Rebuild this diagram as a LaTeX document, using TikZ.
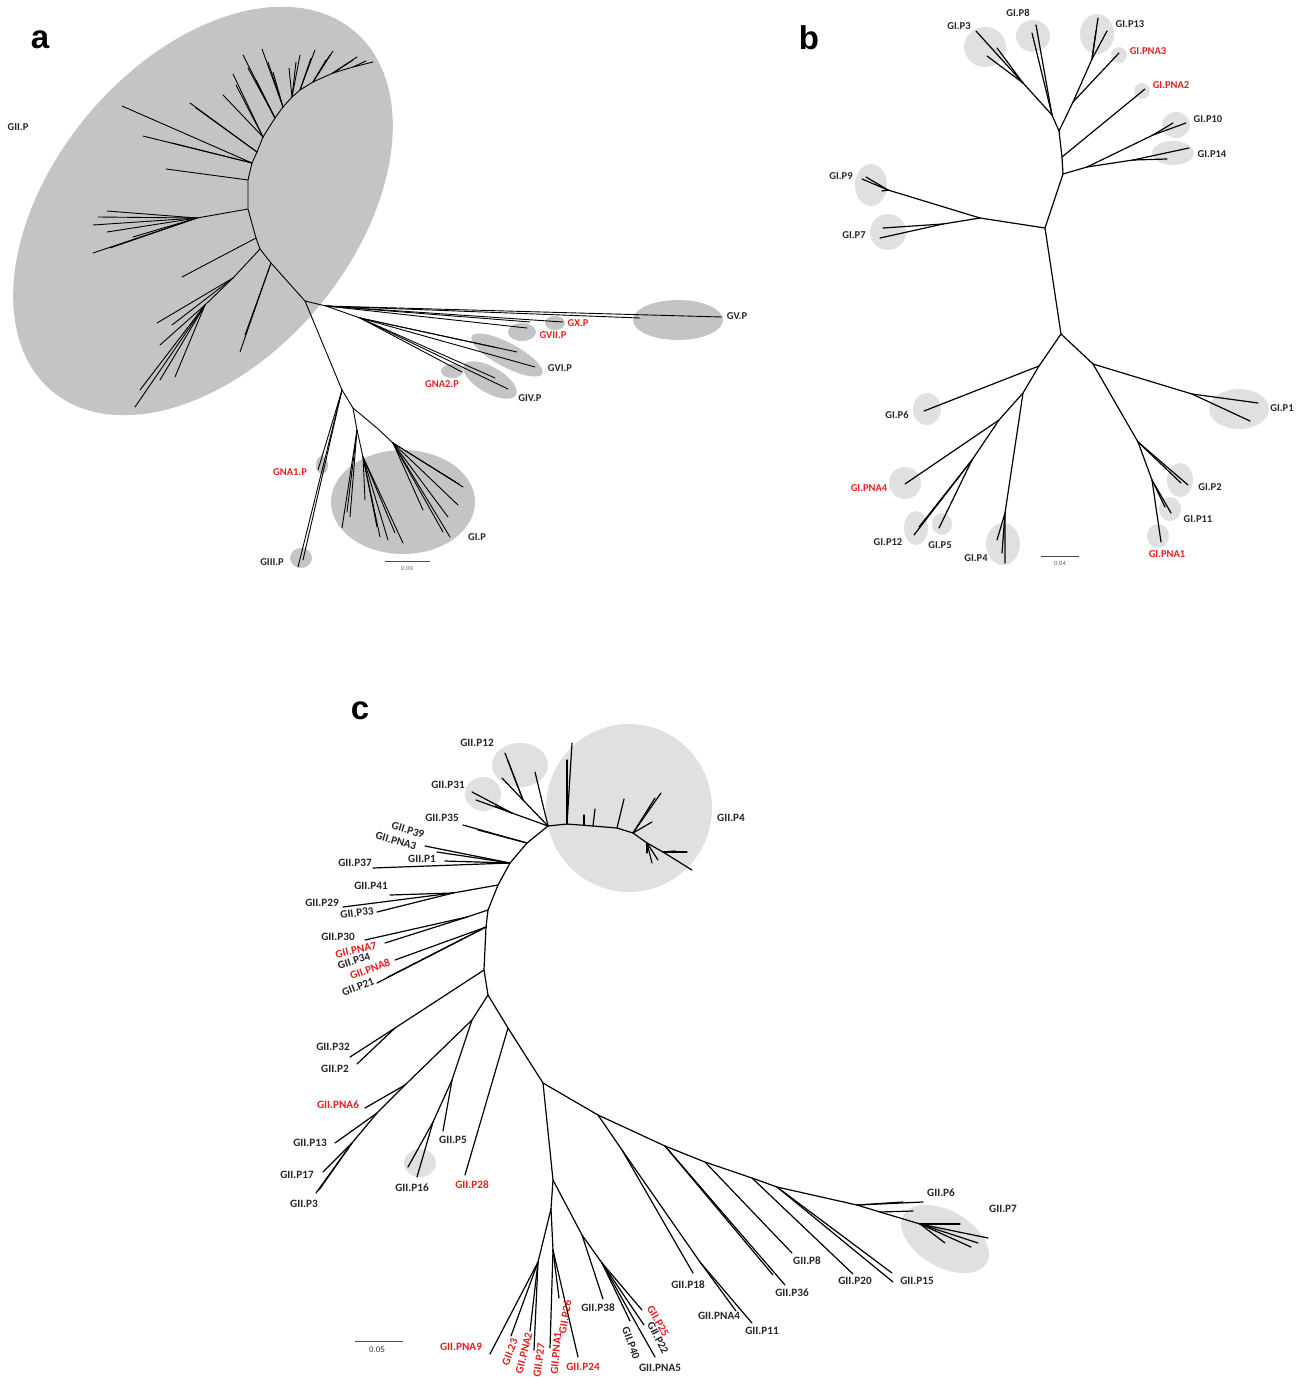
\documentclass[tikz,border=0pt]{standalone}
\usepackage{fontspec}
\newfontfamily\labfam{Carlito}
\newfontfamily\panelfam{Liberation Sans}
\definecolor{tipred}{RGB}{232,30,30}
\definecolor{shadea}{RGB}{196,196,196}
\definecolor{shadeb}{RGB}{224,224,224}
\tikzset{
  br/.style={line width=1.2pt, line cap=round, line join=round},
  thinbr/.style={line width=0.9pt, line cap=round, line join=round},
  blob/.style={fill=shadea},
  cloud/.style={fill=shadeb},
  lab/.style={font=\labfam\bfseries\fontsize{10.5}{12}\selectfont, inner sep=0pt, text=black!85},
  redlab/.style={lab, text=tipred},
  labc/.style={font=\labfam\bfseries\fontsize{11.2}{13}\selectfont, inner sep=0pt, text=black!85},
  redlabc/.style={labc, text=tipred},
  panel/.style={font=\panelfam\bfseries\fontsize{33}{36}\selectfont, inner sep=0pt},
  bar/.style={line width=0.9pt, black!70},
  barlab/.style={font=\panelfam\fontsize{6}{7}\selectfont, text=black!60, inner sep=0pt},
}
\begin{document}
\begin{tikzpicture}[x=1pt,y=-1pt]
\useasboundingbox (0,0) rectangle (1304,1377);

%%%%%%%%%%%%%%%% panel a %%%%%%%%%%%%%%%%
\node[panel] (pa) at (40,40) {a};

% clade shading
\fill[blob, rotate around={50:(203,211)}] (203,211) ellipse [x radius=235, y radius=150];
\fill[blob] (678,320) ellipse [x radius=45, y radius=20];
\fill[blob] (555,323) ellipse [x radius=10, y radius=7];
\fill[blob] (522,332) ellipse [x radius=14, y radius=9];
\fill[blob, rotate around={-28:(507,355)}] (507,355) ellipse [x radius=40, y radius=12];
\fill[blob, rotate around={-30:(490,380)}] (490,380) ellipse [x radius=30, y radius=13];
\fill[blob] (452,371) ellipse [x radius=11, y radius=7];
\fill[blob] (322,465) ellipse [x radius=6, y radius=9];
\fill[blob] (301,558) ellipse [x radius=11, y radius=10];
\fill[blob] (403,502) ellipse [x radius=72, y radius=52];

% backbone of GII
\coordinate (a0) at (342,390);
\coordinate (a1) at (305,301);
\coordinate (a2) at (271,263);
\coordinate (a3) at (260,249);
\coordinate (a4) at (256,238);
\coordinate (a5) at (248,209);
\coordinate (a6) at (248,180);
\coordinate (a7) at (252,163);
\coordinate (a8) at (257,152);
\coordinate (a9) at (263,137);
\coordinate (a10) at (275,118);
\coordinate (a11) at (283,107);
\coordinate (a12) at (292,97);
\coordinate (a13) at (300,90);
\coordinate (a14) at (313,82);
\coordinate (a15) at (333,73);
\coordinate (a16) at (353,67);
\coordinate (a17) at (373,62);
\draw[thinbr] (a0) -- (a1) -- (a2) -- (a3) -- (a4) -- (a5) -- (a6) -- (a7) -- (a8)
  -- (a9) -- (a10) -- (a11) -- (a12) -- (a13) -- (a14) -- (a15) -- (a16) -- (a17);

% GII fans
\foreach \x/\y in {240/352,245/335} \draw[thinbr] (a2) -- (\x,\y);
\coordinate (a3s) at (233,278);
\coordinate (a3t) at (205,305);
\draw[thinbr] (a3) -- (a3s) -- (a3t);
\foreach \x/\y in {157/323,172/325} \draw[thinbr] (a3s) -- (\x,\y);
\foreach \x/\y in {135/407,160/345,175/377,160/380,140/390} \draw[thinbr] (a3t) -- (\x,\y);
\draw[thinbr] (a4) -- (182,277);
\coordinate (a5s) at (197,218);
\draw[thinbr] (a5) -- (a5s);
\foreach \x/\y in {93/253,110/248,107/232,93/225,98/217,107/211,133/237} \draw[thinbr] (a5s) -- (\x,\y);
\draw[thinbr] (a6) -- (166,169);
\foreach \x/\y in {122/106,143/136,172/143} \draw[thinbr] (a7) -- (\x,\y);
\foreach \x/\y in {190/103,196/108} \draw[thinbr] (a8) -- (\x,\y);
\foreach \x/\y in {223/95,233/74,236/85} \draw[thinbr] (a9) -- (\x,\y);
\foreach \x/\y in {243/55,248/68,256/80} \draw[thinbr] (a10) -- (\x,\y);
\foreach \x/\y in {262/49,273/72,268/62} \draw[thinbr] (a11) -- (\x,\y);
\foreach \x/\y in {289/68,300/55,296/62} \draw[thinbr] (a12) -- (\x,\y);
\foreach \x/\y in {315/50,311/58} \draw[thinbr] (a13) -- (\x,\y);
\foreach \x/\y in {333/51,326/60,330/55} \draw[thinbr] (a14) -- (\x,\y);
\foreach \x/\y in {357/57,348/63,353/60} \draw[thinbr] (a15) -- (\x,\y);
\draw[thinbr] (a16) -- (366,61);

% GV, GX, GVII, GVI, GIV, GNA2
\coordinate (ar1) at (326,306);
\coordinate (ar2) at (360,318);
\coordinate (tGV) at (722,317);
\draw[thinbr] (a1) -- (ar1) -- (ar2);
\draw[thinbr] (ar1) -- (tGV);
\draw[thinbr] (ar1) -- (640,318);
\foreach \x/\y in {563/322,530/322,527/328} \draw[thinbr] (ar1) -- (\x,\y);
\foreach \x/\y in {517/352,535/367,498/348,495/378,508/389,462/372} \draw[thinbr] (ar2) -- (\x,\y);

% GNA1, GIII, GI
\coordinate (ab1) at (353,408);
\coordinate (ag1) at (357,430);
\coordinate (ag2) at (363,457);
\coordinate (ag3) at (377,428);
\coordinate (ag4) at (393,443);
\foreach \x/\y in {318/470,298/567,303/560} \draw[thinbr] (a0) -- (\x,\y);
\draw[thinbr] (a0) -- (ab1) -- (ag1) -- (ag2);
\draw[thinbr] (ab1) -- (ag3) -- (ag4);
\foreach \x/\y in {350/517,347/512,342/528} \draw[thinbr] (ag1) -- (\x,\y);
\foreach \x/\y in {365/500,380/537,388/540,403/543,395/533,377/527} \draw[thinbr] (ag2) -- (\x,\y);
\foreach \x/\y in {463/487,459/484,458/505,448/517,423/510,450/537,443/532} \draw[thinbr] (ag4) -- (\x,\y);

% labels a
\node[lab] (lGII) at (18,127) {GII.P};
\node[lab] (lGV) at (737,316) {GV.P};
\node[redlab] (lGX) at (578,323) {GX.P};
\node[redlab] (lGVII) at (553,335) {GVII.P};
\node[lab] (lGVI) at (560,368) {GVI.P};
\node[lab] (lGIV) at (530,398) {GIV.P};
\node[redlab] (lGNA2) at (442,384) {GNA2.P};
\node[redlab] (lGNA1) at (290,472) {GNA1.P};
\node[lab] (lGIII) at (272,562) {GIII.P};
\node[lab] (lGI) at (477,537) {GI.P};

% scale a
\coordinate (sa1) at (385,561);
\coordinate (sa2) at (430,561);
\draw[bar] (sa1) -- (sa2);
\node[barlab] (sal) at (407,568) {0.09};

%%%%%%%%%%%%%%%% panel b %%%%%%%%%%%%%%%%
\node[panel] (pb) at (809,38) {b};

\fill[cloud] (985,47) ellipse [x radius=21, y radius=20];
\fill[cloud] (1033,36) ellipse [x radius=17, y radius=16];
\fill[cloud] (1097,34) ellipse [x radius=17, y radius=20];
\fill[cloud] (1119,55) ellipse [x radius=8, y radius=8];
\fill[cloud] (1142,91) ellipse [x radius=8, y radius=8];
\fill[cloud] (1176,125) ellipse [x radius=14, y radius=13];
\fill[cloud] (1173,153) ellipse [x radius=21, y radius=12];
\fill[cloud] (871,185) ellipse [x radius=16, y radius=21];
\fill[cloud] (888,232) ellipse [x radius=18, y radius=18];
\fill[cloud] (927,409) ellipse [x radius=14, y radius=16];
\fill[cloud] (905,483) ellipse [x radius=16, y radius=16];
\fill[cloud] (916,528) ellipse [x radius=12, y radius=17];
\fill[cloud] (942,524) ellipse [x radius=10, y radius=11];
\fill[cloud] (1003,544) ellipse [x radius=17, y radius=21];
\fill[cloud] (1239,409) ellipse [x radius=30, y radius=20];
\fill[cloud] (1180,480) ellipse [x radius=13, y radius=17];
\fill[cloud] (1170,509) ellipse [x radius=11, y radius=12];
\fill[cloud] (1158,536) ellipse [x radius=11, y radius=12];

\coordinate (b0) at (1061,334);
\coordinate (b1) at (1045,228);
\coordinate (b2) at (1063,174);
\coordinate (b3) at (1062,157);
\coordinate (b4) at (1059,131);
\coordinate (b5) at (1052,115);
\coordinate (b6) at (1023,83);
\coordinate (b7) at (1073,102);
\coordinate (b8) at (1092,59);
\coordinate (b9) at (1087,167);
\coordinate (b10) at (1153,135);
\coordinate (b11) at (1133,160);
\coordinate (b12) at (980,218);
\coordinate (b13) at (943,224);
\coordinate (b14) at (888,190);
\draw[br] (b0) -- (b1) -- (b2) -- (b3) -- (b4) -- (b5) -- (b6);
\foreach \x/\y in {1036/25,1032/33} \draw[br] (b5) -- (\x,\y);
\foreach \x/\y in {976/31,987/56,997/48} \draw[br] (b6) -- (\x,\y);
\draw[br] (b4) -- (b7) -- (b8);
\foreach \x/\y in {1098/18,1096/31,1107/31} \draw[br] (b8) -- (\x,\y);
\draw[br] (b7) -- (1119,53);
\draw[br] (b3) -- (1145,89);
\draw[br] (b2) -- (b9) -- (b10);
\foreach \x/\y in {1186/123,1173/123} \draw[br] (b10) -- (\x,\y);
\draw[br] (b9) -- (b11);
\foreach \x/\y in {1189/148,1167/159} \draw[br] (b11) -- (\x,\y);
\draw[br] (b1) -- (b12) -- (b14);
\foreach \x/\y in {862/179,866/177,882/191} \draw[br] (b14) -- (\x,\y);
\draw[br] (b12) -- (b13);
\foreach \x/\y in {883/228,880/238} \draw[br] (b13) -- (\x,\y);

\coordinate (b20) at (1039,366);
\coordinate (b21) at (1023,393);
\coordinate (b22) at (999,420);
\coordinate (b23) at (972,460);
\coordinate (b24) at (1005,513);
\coordinate (b30) at (1093,364);
\coordinate (b31) at (1192,394);
\coordinate (b32) at (1138,442);
\coordinate (b33) at (1152,480);
\draw[br] (b0) -- (b20) -- (b21) -- (b22) -- (b23);
\draw[br] (b20) -- (924,411);
\draw[br] (b22) -- (905,484);
\foreach \x/\y in {914/535,919/527,939/528} \draw[br] (b23) -- (\x,\y);
\draw[br] (b21) -- (b24) -- (1005,563);
\foreach \x/\y in {997/540,1002/553} \draw[br] (b24) -- (\x,\y);
\draw[br] (b0) -- (b30) -- (b31) -- (1258,403);
\draw[br] (b31) -- (1250,421);
\draw[br] (b30) -- (b32);
\foreach \x/\y in {1188/485,1181/483} \draw[br] (b32) -- (\x,\y);
\draw[br] (b32) -- (b33);
\foreach \x/\y in {1171/513,1165/507,1161/542} \draw[br] (b33) -- (\x,\y);

% labels b
\node[lab] (lP3) at (959,26) {GI.P3};
\node[lab] (lP8) at (1018,13) {GI.P8};
\node[lab] (lP13) at (1130,24) {GI.P13};
\node[redlab] (lPNA3) at (1148,51) {GI.PNA3};
\node[redlab] (lPNA2) at (1171,85) {GI.PNA2};
\node[lab] (lP10) at (1208,119) {GI.P10};
\node[lab] (lP14) at (1212,154) {GI.P14};
\node[lab] (lP9) at (841,176) {GI.P9};
\node[lab] (lP7) at (854,235) {GI.P7};
\node[lab] (lP6) at (897,415) {GI.P6};
\node[redlab] (lPNA4) at (869,488) {GI.PNA4};
\node[lab] (lP12) at (888,542) {GI.P12};
\node[lab] (lP5) at (940,545) {GI.P5};
\node[lab] (lP4) at (976,558) {GI.P4};
\node[lab] (lP1) at (1282,408) {GI.P1};
\node[lab] (lP2) at (1210,487) {GI.P2};
\node[lab] (lP11) at (1198,519) {GI.P11};
\node[redlab] (lPNA1) at (1167,554) {GI.PNA1};

% scale b
\coordinate (sb1) at (1041,556);
\coordinate (sb2) at (1079,556);
\draw[bar] (sb1) -- (sb2);
\node[barlab] (sbl) at (1060,563) {0.04};

%%%%%%%%%%%%%%%% panel c %%%%%%%%%%%%%%%%
\node[panel] (pc) at (360,711) {c};

\fill[cloud] (629,808) ellipse [x radius=83, y radius=84];
\fill[cloud] (520,765) ellipse [x radius=28, y radius=22];
\fill[cloud] (483,794) ellipse [x radius=18, y radius=17];
\fill[cloud] (420,1163) ellipse [x radius=16, y radius=14];
\fill[cloud, rotate around={-30:(945,1239)}] (945,1239) ellipse [x radius=48, y radius=28];

% backbone
\coordinate (cA) at (548,826);
\coordinate (cB) at (527,843);
\coordinate (cC) at (510,863);
\coordinate (cD) at (498,885);
\coordinate (cE) at (488,910);
\coordinate (cF) at (486,927);
\coordinate (cG) at (484,970);
\coordinate (cH) at (488,995);
\draw[br] (cA) -- (cB) -- (cC) -- (cD) -- (cE) -- (cF) -- (cG) -- (cH);

% GII.P12, GII.P31, GII.P35
\coordinate (c12) at (523,800);
\coordinate (c31) at (512,813);
\draw[br] (cA) -- (c12);
\foreach \x/\y in {505/753,508/761,502/778} \draw[br] (c12) -- (\x,\y);
\draw[br] (cA) -- (535,772);
\draw[br] (cA) -- (c31);
\foreach \x/\y in {472/792,476/800,495/806} \draw[br] (c31) -- (\x,\y);
\foreach \x/\y in {463/825,478/830} \draw[br] (cB) -- (\x,\y);

% GII.P4
\coordinate (c4a) at (567,824);
\coordinate (c4b) at (593,826);
\coordinate (c4c) at (617,828);
\coordinate (c4d) at (633,833);
\coordinate (c4e) at (647,843);
\coordinate (c4f) at (663,852);
\draw[br] (cA) -- (c4a) -- (c4b) -- (c4c) -- (c4d) -- (c4e) -- (c4f) -- (692,870);
\foreach \x/\y in {572/743,567/760} \draw[br] (c4a) -- (\x,\y);
\draw[br] (584,825) -- (584,815);
\draw[br] (c4b) -- (595,809);
\draw[br] (c4c) -- (624,799);
\foreach \x/\y in {661/793,655/798,652/822} \draw[br] (c4d) -- (\x,\y);
\foreach \x/\y in {652/863,658/860,647/853} \draw[br] (c4e) -- (\x,\y);
\foreach \x/\y in {687/852,675/851} \draw[br] (c4f) -- (\x,\y);

% left side
\foreach \x/\y in {425/846,437/852,445/861,373/868} \draw[br] (cC) -- (\x,\y);
\coordinate (c41) at (453,893);
\draw[br] (cD) -- (c41);
\foreach \x/\y in {390/895,343/907,377/912} \draw[br] (c41) -- (\x,\y);
\coordinate (c30) at (467,917);
\draw[br] (cE) -- (c30);
\foreach \x/\y in {365/940,385/943} \draw[br] (c30) -- (\x,\y);
\foreach \x/\y in {395/960,377/983,388/977} \draw[br] (cF) -- (\x,\y);
\coordinate (c32) at (395,1028);
\draw[br] (cG) -- (c32);
\foreach \x/\y in {350/1057,357/1064} \draw[br] (c32) -- (\x,\y);

% lower left
\coordinate (c6) at (472,1020);
\coordinate (cN6) at (405,1085);
\coordinate (c13) at (377,1113);
\coordinate (c17) at (352,1143);
\coordinate (c5) at (452,1080);
\coordinate (c16) at (433,1122);
\draw[br] (cH) -- (c6) -- (cN6) -- (c13) -- (c17);
\draw[br] (cN6) -- (365,1108);
\draw[br] (c13) -- (335,1143);
\foreach \x/\y in {323/1172,316/1193,319/1190} \draw[br] (c17) -- (\x,\y);
\draw[br] (c6) -- (c5) -- (443,1131);
\draw[br] (c5) -- (c16);
\foreach \x/\y in {408/1167,417/1177} \draw[br] (c16) -- (\x,\y);

% right and bottom
\coordinate (c28) at (508,1028);
\coordinate (cD0) at (543,1083);
\coordinate (cD1) at (598,1115);
\coordinate (cD2) at (665,1146);
\coordinate (cD3) at (705,1162);
\coordinate (cD4) at (752,1178);
\coordinate (cD5) at (777,1187);
\coordinate (cD6) at (857,1205);
\coordinate (cD7) at (880,1212);
\coordinate (cD8) at (920,1224);
\draw[br] (cH) -- (c28) -- (cD0) -- (cD1) -- (cD2) -- (cD3) -- (cD4) -- (cD5) -- (cD6) -- (cD7) -- (cD8);
\draw[br] (c28) -- (465,1175);
\coordinate (c18) at (622,1150);
\coordinate (cN4) at (700,1262);
\draw[br] (cD1) -- (c18) -- (693,1273);
\draw[br] (c18) -- (cN4);
\foreach \x/\y in {736/1311,752/1323} \draw[br] (cN4) -- (\x,\y);
\foreach \x/\y in {785/1285,773/1275} \draw[br] (cD2) -- (\x,\y);
\draw[br] (cD3) -- (792,1253);
\draw[br] (cD4) -- (853,1274);
\foreach \x/\y in {893/1282,892/1273} \draw[br] (cD5) -- (\x,\y);
\foreach \x/\y in {923/1202,903/1202} \draw[br] (cD6) -- (\x,\y);
\draw[br] (cD7) -- (913,1211);
\foreach \x/\y in {960/1224,988/1238,978/1243,971/1247,945/1243} \draw[br] (cD8) -- (\x,\y);

\coordinate (cE0) at (553,1180);
\coordinate (cE1) at (551,1209);
\coordinate (cE1a) at (538,1262);
\coordinate (cE1b) at (553,1250);
\coordinate (cE2) at (582,1235);
\coordinate (cE3) at (602,1263);
\draw[br] (cD0) -- (cE0) -- (cE1);
\draw[br] (cE1) -- (cE1a);
\draw[br] (cE1) -- (cE1b);
\foreach \x/\y in {490/1354,511/1336,530/1331,534/1350} \draw[br] (cE1a) -- (\x,\y);
\foreach \x/\y in {550/1348,559/1298,578/1357} \draw[br] (cE1b) -- (\x,\y);
\draw[br] (cE0) -- (cE2) -- (603,1299);
\draw[br] (cE2) -- (cE3);
\foreach \x/\y in {642/1310,644/1325,655/1357,630/1321} \draw[br] (cE3) -- (\x,\y);

% labels c
\node[labc] (cl12) at (477,743) {GII.P12};
\node[labc] (cl31) at (448,785) {GII.P31};
\node[labc] (cl4) at (731,818) {GII.P4};
\node[labc] (cl35) at (442,818) {GII.P35};
\node[labc, rotate=-17] (cl39) at (408,830) {GII.P39};
\node[labc, rotate=-16] (clN3) at (396,841) {GII.PNA3};
\node[labc] (cl1) at (422,859) {GII.P1};
\node[labc] (cl37) at (355,863) {GII.P37};
\node[labc] (cl41) at (371,886) {GII.P41};
\node[labc] (cl29) at (322,903) {GII.P29};
\node[labc, rotate=8] (cl33) at (357,913) {GII.P33};
\node[labc] (cl30) at (338,937) {GII.P30};
\node[redlabc, rotate=13] (clN7) at (356,950) {GII.PNA7};
\node[labc, rotate=18] (cl34) at (354,961) {GII.P34};
\node[redlabc, rotate=20] (clN8) at (370,969) {GII.PNA8};
\node[labc, rotate=22] (cl21) at (358,987) {GII.P21};
\node[labc] (cl32) at (333,1047) {GII.P32};
\node[labc] (cl2) at (335,1069) {GII.P2};
\node[redlabc] (clN6) at (338,1105) {GII.PNA6};
\node[labc] (cl13) at (310,1143) {GII.P13};
\node[labc] (cl17) at (297,1175) {GII.P17};
\node[labc] (cl3) at (304,1204) {GII.P3};
\node[labc] (cl16) at (412,1188) {GII.P16};
\node[labc] (cl5) at (453,1140) {GII.P5};
\node[redlabc] (cl28) at (472,1185) {GII.P28};
\node[labc] (cl6) at (941,1193) {GII.P6};
\node[labc] (cl7) at (1003,1209) {GII.P7};
\node[labc] (cl8) at (807,1261) {GII.P8};
\node[labc] (cl20) at (855,1281) {GII.P20};
\node[labc] (cl15) at (917,1281) {GII.P15};
\node[labc] (cl36) at (792,1293) {GII.P36};
\node[labc] (cl18) at (688,1285) {GII.P18};
\node[labc] (clN4) at (719,1316) {GII.PNA4};
\node[labc] (cl11) at (762,1331) {GII.P11};
\node[labc] (cl38) at (598,1308) {GII.P38};
\node[redlabc, rotate=-60] (cl25) at (658,1321) {GII.P25};
\node[labc, rotate=-62] (cl22) at (658,1338) {GII.P22};
\node[labc, rotate=-70] (cl40) at (631,1343) {GII.P40};
\node[labc] (clN5) at (660,1368) {GII.PNA5};
\node[redlabc] (clN9) at (461,1347) {GII.PNA9};
\node[redlabc, rotate=70] (cl23) at (510,1352) {GII.23};
\node[redlabc, rotate=76] (clN2) at (524,1353) {GII.PNA2};
\node[redlabc, rotate=82] (cl27) at (539,1360) {GII.P27};
\node[redlabc, rotate=85] (clN1) at (556,1353) {GII.PNA1};
\node[redlabc, rotate=80] (cl26) at (565,1317) {GII.P26};
\node[redlabc] (cl24) at (583,1367) {GII.P24};

% scale c
\coordinate (sc1) at (355,1341);
\coordinate (sc2) at (403,1341);
\draw[bar] (sc1) -- (sc2);
\node[barlab, font=\panelfam\fontsize{8}{9}\selectfont, text=black!80] (scl) at (377,1350) {0.05};

\end{tikzpicture}
\end{document}
